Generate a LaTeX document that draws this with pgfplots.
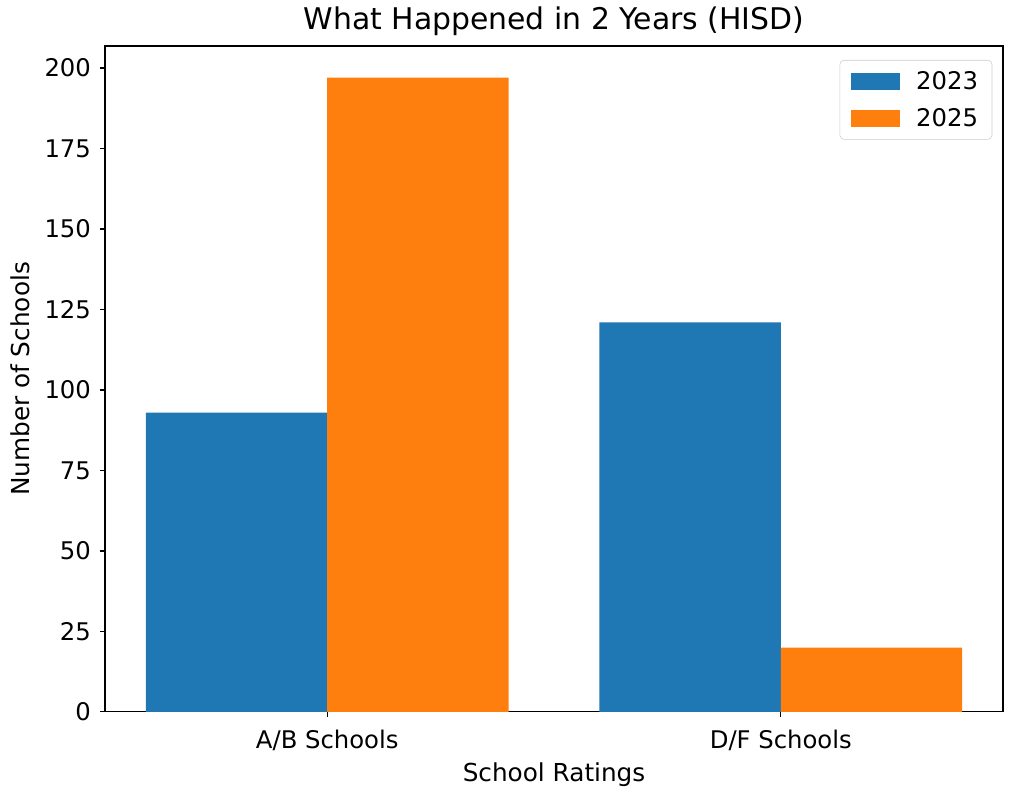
\documentclass[border=0pt]{standalone}
\usepackage{pgfplots}
\pgfplotsset{compat=1.18}
\usepackage{fontspec}
\setmainfont{DejaVu Sans}
\usetikzlibrary{calc}
\definecolor{c1}{HTML}{1F77B4}
\definecolor{c2}{HTML}{FF7F0E}
\pgfplotsset{patchlegend/.style={legend image code/.code={\fill[#1,draw=none,sharp corners] (0pt,-6pt) rectangle (35pt,6pt);}}}
\begin{document}
\begin{tikzpicture}
\begin{axis}[
  width=646.6pt, height=479.5pt, scale only axis,
  xmin=-0.49, xmax=1.49, ymin=0, ymax=206.85,
  xtick={0,1}, xticklabels={A/B Schools, D/F Schools},
  ytick={0,25,...,200},
  tick align=outside, major tick length=3.6pt,
  tick pos=left,
  axis line style={line width=0.8pt},
  tick style={line width=0.8pt, black},
  /pgf/number format/assume math mode=true,
  tick label style={font=\fontsize{17.5}{20}\selectfont},
  xticklabel style={yshift=-6pt},
  yticklabel style={xshift=-3pt},
  title={What Happened in 2 Years (HISD)},
  title style={font=\fontsize{21.5}{24}\selectfont, yshift=-2pt},
  xlabel={School Ratings}, ylabel={Number of Schools},
  label style={font=\fontsize{17.8}{20}\selectfont},
  xlabel style={yshift=-2pt},
  ylabel style={yshift=4pt},
  legend style={at={(0.988,0.979)}, anchor=north east, draw=black!20, rounded corners=3pt,
    font=\fontsize{17.5}{21}\selectfont, row sep=8pt, inner xsep=8pt, inner ysep=6pt},
  legend cell align=left,
  ybar, bar width=0.4,
]
\addplot[fill=c1, draw=none, bar shift=-0.2, patchlegend] coordinates {(0,93) (1,121)};
\addplot[fill=c2, draw=none, bar shift=0.2, patchlegend] coordinates {(0,197) (1,20)};
\legend{\hspace{10pt}2023,\hspace{10pt}2025}
\end{axis}
\pgfresetboundingbox
\path ($(current axis.south west)+(-75.6pt,-57.6pt)$) rectangle ($(current axis.north east)+(4.3pt,33.1pt)$);
\end{tikzpicture}
\end{document}
